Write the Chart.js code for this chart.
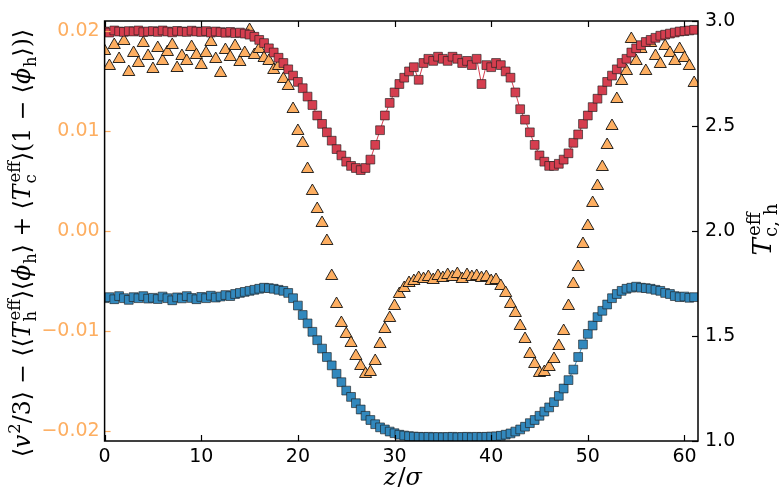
<!DOCTYPE html>
<html>
<head>
<meta charset="utf-8">
<script src="https://cdn.jsdelivr.net/npm/chart.js@4.4.0/dist/chart.umd.min.js"></script>
<style>
  html, body { margin: 0; padding: 0; background: #fff; }
  #wrap { width: 779px; height: 491px; }
</style>
</head>
<body>
<div id="wrap"><canvas id="chart" width="779" height="491"></canvas></div>
<script>
// positions along the box, z / sigma
const z = [0,0.5,1,1.5,2,2.5,3,3.5,4,4.5,5,5.5,6,6.5,7,7.5,8,8.5,9,9.5,
  10,10.5,11,11.5,12,12.5,13,13.5,14,14.5,15,15.5,16,16.5,17,17.5,18,18.5,19,19.5,
  20,20.5,21,21.5,22,22.5,23,23.5,24,24.5,25,25.5,26,26.5,27,27.5,28,28.5,29,29.5,
  30,30.5,31,31.5,32,32.5,33,33.5,34,34.5,35,35.5,36,36.5,37,37.5,38,38.5,39,39.5,
  40,40.5,41,41.5,42,42.5,43,43.5,44,44.5,45,45.5,46,46.5,47,47.5,48,48.5,49,49.5,
  50,50.5,51,51.5,52,52.5,53,53.5,54,54.5,55,55.5,56,56.5,57,57.5,58,58.5,59,59.5,
  60,60.5,61];

// T_eff hot (red squares, right axis)
const tHot = [2.95,2.945,2.955,2.95,2.948,2.952,2.95,2.955,2.947,2.95,
  2.952,2.948,2.955,2.95,2.946,2.953,2.95,2.948,2.954,2.95,
  2.948,2.952,2.945,2.95,2.947,2.944,2.948,2.942,2.945,2.94,
  2.935,2.925,2.91,2.895,2.87,2.85,2.825,2.80,2.77,2.74,
  2.71,2.68,2.64,2.60,2.55,2.51,2.47,2.43,2.39,2.36,
  2.33,2.31,2.30,2.29,2.30,2.34,2.41,2.48,2.55,2.61,
  2.66,2.70,2.73,2.76,2.78,2.72,2.80,2.82,2.81,2.83,
  2.82,2.81,2.83,2.82,2.80,2.81,2.79,2.82,2.70,2.79,
  2.78,2.80,2.79,2.76,2.73,2.66,2.58,2.53,2.47,2.41,
  2.36,2.33,2.31,2.31,2.32,2.34,2.37,2.42,2.46,2.51,
  2.55,2.59,2.63,2.67,2.71,2.74,2.77,2.80,2.82,2.85,
  2.87,2.885,2.90,2.91,2.92,2.93,2.935,2.94,2.945,2.95,
  2.952,2.955,2.958];

// T_eff cold (blue squares, right axis)
const tCold = [1.68,1.685,1.675,1.69,1.68,1.672,1.685,1.68,1.69,1.678,
  1.682,1.676,1.688,1.68,1.67,1.684,1.679,1.69,1.681,1.675,
  1.686,1.68,1.692,1.683,1.688,1.695,1.69,1.70,1.705,1.71,
  1.715,1.72,1.725,1.73,1.728,1.725,1.72,1.715,1.705,1.68,
  1.645,1.60,1.56,1.52,1.48,1.44,1.40,1.36,1.32,1.28,
  1.24,1.21,1.18,1.15,1.12,1.10,1.08,1.065,1.055,1.045,
  1.037,1.03,1.026,1.023,1.021,1.02,1.019,1.02,1.018,1.019,
  1.018,1.019,1.02,1.018,1.019,1.02,1.018,1.02,1.019,1.02,
  1.021,1.022,1.025,1.03,1.036,1.045,1.055,1.068,1.085,1.10,
  1.12,1.14,1.16,1.185,1.215,1.25,1.29,1.34,1.40,1.46,
  1.51,1.55,1.59,1.62,1.65,1.68,1.70,1.715,1.725,1.73,
  1.735,1.73,1.728,1.725,1.72,1.715,1.705,1.70,1.69,1.685,
  1.688,1.682,1.685];

// kinetic temperature minus weighted T_eff (orange triangles, left axis)
const dT = [0.0180,0.0165,0.0186,0.0172,0.0190,0.0159,0.0178,0.0168,0.0188,0.0175,
  0.0162,0.0183,0.0170,0.0179,0.0186,0.0163,0.0175,0.0170,0.0184,0.0176,
  0.0166,0.0178,0.0189,0.0172,0.0158,0.0181,0.0174,0.0185,0.0169,0.0178,
  0.0201,0.0176,0.0182,0.0173,0.0170,0.0161,0.0165,0.0152,0.0145,0.0122,
  0.0100,0.0088,0.0062,0.0040,0.0022,0.0008,-0.0010,-0.0045,-0.0073,-0.0092,
  -0.0103,-0.0112,-0.0125,-0.0135,-0.0143,-0.0141,-0.0130,-0.0113,-0.0098,-0.0087,
  -0.0075,-0.0063,-0.0057,-0.0052,-0.0050,-0.0047,-0.0048,-0.0046,-0.0049,-0.0045,
  -0.0047,-0.0044,-0.0046,-0.0043,-0.0048,-0.0044,-0.0046,-0.0045,-0.0047,-0.0046,
  -0.0050,-0.0049,-0.0055,-0.0062,-0.0073,-0.0082,-0.0095,-0.0108,-0.0123,-0.0133,
  -0.0142,-0.0141,-0.0136,-0.0128,-0.0115,-0.0100,-0.0075,-0.0053,-0.0036,-0.0013,
  0.0005,0.0028,0.0045,0.0064,0.0086,0.0105,0.0132,0.0150,0.0160,0.0192,
  0.0170,0.0182,0.0160,0.0188,0.0175,0.0167,0.0185,0.0178,0.0170,0.0182,
  0.0173,0.0165,0.0148];

const xTicks = [0, 10, 20, 30, 40, 50, 60];
const leftTicks = [-0.02, -0.01, 0, 0.01, 0.02];
const rightTicks = [1.0, 1.5, 2.0, 2.5, 3.0];

const RED = '#d53e4f', BLUE = '#3288bd', ORANGE = '#fdae61';

function pts(ys) {
  return z.map((x, i) => ({ x: x, y: ys[i] }));
}

// draws text with math-like sup/sub parts
function drawRich(ctx, parts, fs, cx, cy, rot) {
  const fam = '"DejaVu Serif"';
  const fonts = {
    r: fs + 'px ' + fam,
    i: 'italic ' + fs + 'px ' + fam,
    s: (fs * 0.7) + 'px ' + fam
  };
  function partWidth(p) {
    if (p.f == 'ss') {
      ctx.font = fonts.s;
      return Math.max(ctx.measureText(p.t[0]).width, ctx.measureText(p.t[1]).width) + 1;
    }
    ctx.font = (p.f == 'sup' || p.f == 'sub') ? fonts.s : fonts[p.f];
    return ctx.measureText(p.t).width + (p.f == 'i' ? 1 : 0);
  }
  ctx.save();
  ctx.translate(cx, cy);
  ctx.rotate(rot);
  ctx.fillStyle = '#000';
  ctx.textBaseline = 'alphabetic';
  ctx.textAlign = 'left';
  const widths = parts.map(partWidth);
  let x = -widths.reduce((a, b) => a + b, 0) / 2;
  parts.forEach((p, k) => {
    if (p.f == 'ss') {
      ctx.font = fonts.s;
      ctx.fillText(p.t[0], x + 1, -fs * 0.42);
      ctx.fillText(p.t[1], x, fs * 0.24);
    } else if (p.f == 'sup') {
      ctx.font = fonts.s;
      ctx.fillText(p.t, x, -fs * 0.42);
    } else if (p.f == 'sub') {
      ctx.font = fonts.s;
      ctx.fillText(p.t, x, fs * 0.24);
    } else {
      ctx.font = fonts[p.f];
      ctx.fillText(p.t, x, 0);
    }
    x += widths[k];
  });
  ctx.restore();
}

const leftTitle = [
  { t: '⟨', f: 'r' }, { t: 'v', f: 'i' }, { t: '2', f: 'sup' }, { t: '/3⟩ − ⟨⟨', f: 'r' },
  { t: 'T', f: 'i' }, { t: ['eff', 'h'], f: 'ss' }, { t: '⟩⟨', f: 'r' },
  { t: 'ϕ', f: 'i' }, { t: 'h', f: 'sub' }, { t: '⟩ + ⟨', f: 'r' },
  { t: 'T', f: 'i' }, { t: ['eff', 'c'], f: 'ss' }, { t: '⟩(1 − ⟨', f: 'r' },
  { t: 'ϕ', f: 'i' }, { t: 'h', f: 'sub' }, { t: '⟩)⟩', f: 'r' }
];
const rightTitle = [{ t: 'T', f: 'i' }, { t: ['eff', 'c, h'], f: 'ss' }];
const xTitle = [{ t: 'z', f: 'i' }, { t: '/', f: 'r' }, { t: 'σ', f: 'i' }];

// inward ticks on all four sides, the frame and the axis titles
const framePlugin = {
  id: 'frame',
  afterDraw(chart) {
    const ctx = chart.ctx, a = chart.chartArea, s = chart.scales;
    const tl = 6;
    function seg(x1, y1, x2, y2) {
      ctx.beginPath(); ctx.moveTo(x1, y1); ctx.lineTo(x2, y2); ctx.stroke();
    }
    ctx.save();
    ctx.lineWidth = 1.2;
    ctx.strokeStyle = '#000';
    xTicks.forEach(v => {
      const px = Math.round(s.x.getPixelForValue(v)) + 0.5;
      seg(px, a.bottom, px, a.bottom - tl);
      seg(px, a.top, px, a.top + tl);
    });
    rightTicks.forEach(v => {
      const py = Math.round(s.yR.getPixelForValue(v)) + 0.5;
      seg(a.right, py, a.right - tl, py);
    });
    ctx.strokeStyle = ORANGE;
    leftTicks.forEach(v => {
      const py = Math.round(s.yL.getPixelForValue(v)) + 0.5;
      seg(a.left, py, a.left + tl, py);
    });
    ctx.strokeStyle = '#000';
    ctx.lineWidth = 1.5;
    ctx.strokeRect(a.left, a.top, a.right - a.left, a.bottom - a.top);
    ctx.restore();

    drawRich(ctx, leftTitle, 23.5, 30, (a.top + a.bottom) / 2 + 12, -Math.PI / 2);
    drawRich(ctx, rightTitle, 26, 771, (a.top + a.bottom) / 2 - 2, -Math.PI / 2);
    drawRich(ctx, xTitle, 24, (a.left + a.right) / 2 + 2, 485, 0);
  }
};

const tickFont = { family: 'DejaVu Sans', size: 19 };

new Chart(document.getElementById('chart'), {
  type: 'scatter',
  data: {
    datasets: [
      {
        label: 'hot',
        data: pts(tHot),
        yAxisID: 'yR',
        showLine: true,
        borderColor: RED,
        borderWidth: 1,
        backgroundColor: RED,
        pointStyle: 'rect',
        pointRadius: 6.2,
        pointBorderColor: 'rgba(30,30,30,0.8)',
        pointBorderWidth: 0.8,
        order: 0
      },
      {
        label: 'cold',
        data: pts(tCold),
        yAxisID: 'yR',
        showLine: true,
        borderColor: BLUE,
        borderWidth: 1,
        backgroundColor: BLUE,
        pointStyle: 'rect',
        pointRadius: 6.2,
        pointBorderColor: 'rgba(30,30,30,0.8)',
        pointBorderWidth: 0.8,
        order: 1
      },
      {
        label: 'difference',
        data: pts(dT),
        yAxisID: 'yL',
        showLine: false,
        backgroundColor: ORANGE,
        pointStyle: 'triangle',
        pointRadius: 7,
        pointBorderColor: '#111',
        pointBorderWidth: 0.9,
        order: 2
      }
    ]
  },
  options: {
    responsive: false,
    animation: false,
    devicePixelRatio: 1,
    layout: { padding: { top: 21, left: 0, right: 0, bottom: 0 } },
    plugins: { legend: { display: false }, tooltip: { enabled: false } },
    scales: {
      x: {
        type: 'linear', position: 'bottom', min: 0, max: 61.4,
        grid: { display: false, drawTicks: false },
        border: { display: false },
        ticks: { color: '#000', font: tickFont, padding: 5, maxRotation: 0,
          callback: v => String(v) },
        afterBuildTicks: sc => { sc.ticks = xTicks.map(v => ({ value: v })); },
        afterFit: sc => { sc.height = 50; }
      },
      yL: {
        type: 'linear', position: 'left', min: -0.021, max: 0.021,
        grid: { display: false, drawTicks: false },
        border: { display: false },
        ticks: { color: ORANGE, font: tickFont, padding: 5,
          callback: v => (v < -1e-9 ? '−' : '') + Math.abs(v).toFixed(2) },
        afterBuildTicks: sc => { sc.ticks = leftTicks.map(v => ({ value: v })); },
        afterFit: sc => { sc.width = 104.6; }
      },
      yR: {
        type: 'linear', position: 'right', min: 1, max: 3,
        grid: { display: false, drawTicks: false },
        border: { display: false },
        ticks: { color: '#000', font: tickFont, padding: 7,
          callback: v => v.toFixed(1) },
        afterBuildTicks: sc => { sc.ticks = rightTicks.map(v => ({ value: v })); },
        afterFit: sc => { sc.width = 81; }
      }
    }
  },
  plugins: [framePlugin]
});
</script>
</body>
</html>
